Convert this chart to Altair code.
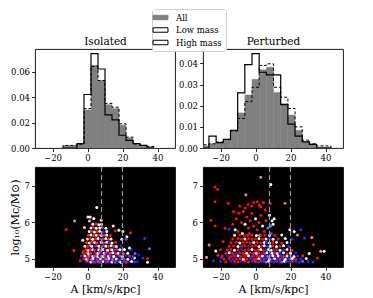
import altair as alt
import pandas as pd

FONT = "DejaVu Serif"

series_names = ["All", "Low mass", "High mass"]
panel_titles = ["Isolated", "Perturbed"]
x_ticks = [-20, 0, 20, 40]
iso_yticks = [0, 0.02, 0.04, 0.06]
per_yticks = [0, 0.01, 0.02, 0.03, 0.04]
mass_ticks = [5, 6, 7]
vline_x = [8, 20]

iso_edges = [-14, -10, -6, -2, 2, 6, 10, 14, 18, 22, 26, 30, 34, 38]
iso_all = [0.002, 0.002, 0.0035, 0.030, 0.065, 0.053, 0.034, 0.031, 0.018, 0.008, 0.0026, 0.002, 0.001]
iso_low = [0.002, 0.002, 0.003, 0.031, 0.064, 0.053, 0.035, 0.032, 0.019, 0.0085, 0.003, 0.002, 0.0012]
iso_high = [0, 0, 0.0035, 0.042, 0.074, 0.062, 0.026, 0.022, 0.010, 0.006, 0.0034, 0.002, 0]

per_edges = [-30.7, -26.6, -22.5, -18.4, -14.3, -10.2, -6.1, -2.0, 2.1, 6.2, 10.3, 14.4, 18.5, 22.6, 26.7, 30.8, 34.9, 39.0, 43.1]
per_all = [0.001, 0.002, 0.0028, 0.004, 0.0084, 0.0166, 0.0251, 0.0325, 0.037, 0.0382, 0.0263, 0.021, 0.0156, 0.0084, 0.003, 0.0017, 0.0005, 0.0004]
per_low = [0.0015, 0.002, 0.0028, 0.004, 0.008, 0.014, 0.0219, 0.0287, 0.039, 0.0398, 0.0287, 0.024, 0.0187, 0.010, 0.0037, 0.002, 0.001, 0.001]
per_high = [0, 0.0056, 0.0025, 0.0041, 0.0084, 0.0261, 0.0394, 0.0446, 0.0358, 0.0346, 0.0346, 0.0205, 0.0113, 0.0056, 0.0029, 0.0017, 0, 0]

# (A, log10 Mc, colour value in [-1, 1])
iso_points = [
    (-12.2, 5.81, 0.95), (-7.4, 6.04, 0.45), (-7.8, 5.23, 0.9), (5.3, 6.41, 0.0), (0.2, 6.15, 0.15),
    (1.5, 6.15, 0.05), (1.1, 6.04, 0.3), (3.6, 6.11, 0.0), (7.8, 6.06, -0.1), (14.7, 5.9, 0.1),
    (15.8, 5.77, 0.9), (17.9, 5.79, 0.05), (20.2, 5.75, 0.0), (24.6, 5.72, 0.9), (22.5, 5.61, 0.1),
    (32.6, 5.56, -0.8), (35.4, 5.28, -0.6), (29.3, 5.11, -0.9), (31.6, 5.03, -0.85), (34.3, 5.01, 0.9),
    (34.3, 4.91, 0.1), (26.8, 5.03, 0.0), (25.0, 5.26, -0.9), (24.0, 5.3, 0.05), (22.1, 5.54, -0.7),
    (19.6, 5.54, 0.1), (21.1, 5.26, 0.0), (-3.6, 5.08, -0.8), (-2.7, 5.51, 0.1), (-1.7, 5.86, 0.2),
    (-4.2, 4.95, 0.9), (-2.5, 5.2, 0.8), (28.5, 4.93, -0.9), (27.2, 5.15, -0.6),
    (-1.0, 4.92, -0.9), (0.2, 4.93, 0.9), (1.1, 4.91, -0.9), (2.0, 4.92, 0.1), (3.1, 4.93, -0.8),
    (4.0, 4.91, 0.9), (5.2, 4.92, -0.9), (6.1, 4.93, -0.6), (7.0, 4.91, 0.85), (8.1, 4.92, -0.9),
    (9.0, 4.93, 0.05), (10.2, 4.91, -0.9), (11.1, 4.92, 0.9), (12.0, 4.93, -0.7), (13.1, 4.91, -0.9),
    (14.0, 4.92, 0.1), (15.2, 4.93, -0.9), (16.1, 4.91, 0.8), (17.0, 4.92, -0.9), (18.2, 4.93, -0.6),
    (19.1, 4.91, 0.0), (20.0, 4.92, -0.9), (21.2, 4.93, -0.8), (22.1, 4.91, 0.9), (24.0, 4.92, -0.9),
    (25.2, 4.93, 0.1), (27.0, 4.92, -0.8),
    (-2.0, 5.0, 0.9), (-0.5, 4.99, 0.05), (0.5, 5.01, 0.9), (1.5, 5.0, -0.9), (2.5, 4.99, 0.7),
    (3.5, 5.01, 0.0), (4.5, 5.0, -0.9), (5.5, 4.99, 0.9), (6.5, 5.01, -0.9), (7.5, 5.0, 0.1),
    (8.5, 4.99, 0.9), (9.5, 5.01, -0.9), (10.5, 5.0, -0.5), (11.5, 4.99, 0.8), (12.5, 5.01, 0.05),
    (13.5, 5.0, -0.9), (14.5, 4.99, 0.6), (15.5, 5.01, -0.9), (16.5, 5.0, 0.0), (18.0, 4.99, -0.9),
    (19.5, 5.01, 0.9), (21.0, 5.0, -0.7), (23.0, 4.99, 0.1), (25.5, 5.01, -0.9),
    (-1.5, 5.08, 0.1), (0.0, 5.07, 0.9), (1.0, 5.09, 0.6), (2.0, 5.08, -0.9), (3.0, 5.07, 0.05),
    (4.0, 5.09, 0.9), (5.0, 5.08, 0.8), (6.0, 5.07, 0.0), (7.0, 5.09, -0.9), (8.0, 5.08, 0.9),
    (9.0, 5.07, -0.1), (10.0, 5.09, 0.9), (11.0, 5.08, -0.8), (12.0, 5.07, 0.1), (13.0, 5.09, 0.9),
    (14.0, 5.08, -0.9), (15.0, 5.07, 0.0), (17.0, 5.09, -0.9), (18.5, 5.08, 0.8), (20.0, 5.07, 0.05),
    (22.0, 5.09, -0.9), (24.0, 5.08, 0.9), (26.0, 5.07, -0.8),
    (-2.5, 5.16, 0.9), (-0.5, 5.17, 0.85), (0.5, 5.15, 0.05), (2.0, 5.16, 0.9), (3.5, 5.17, -0.9),
    (5.0, 5.15, 0.9), (6.0, 5.16, 0.0), (7.0, 5.17, 0.7), (8.0, 5.15, -0.9), (9.5, 5.16, 0.1),
    (10.5, 5.17, 0.9), (12.0, 5.15, -0.8), (13.0, 5.16, 0.8), (14.5, 5.17, 0.0), (16.0, 5.15, 0.9),
    (17.5, 5.16, 0.1), (19.0, 5.17, -0.9), (20.5, 5.15, 0.7), (23.0, 5.16, 0.0),
    (-1.0, 5.25, 0.9), (0.5, 5.24, 0.05), (1.5, 5.26, 0.9), (3.0, 5.25, 0.0), (4.0, 5.24, 0.9),
    (5.5, 5.26, -0.9), (6.5, 5.25, 0.1), (7.5, 5.24, 0.9), (9.0, 5.26, 0.0), (10.0, 5.25, -0.9),
    (11.5, 5.24, 0.05), (13.0, 5.26, 0.9), (14.0, 5.25, 0.1), (15.5, 5.24, -0.8), (17.0, 5.26, 0.9),
    (18.5, 5.25, 0.0),
    (-1.5, 5.35, 0.1), (0.0, 5.34, 0.9), (1.5, 5.36, 0.8), (2.5, 5.35, 0.0), (4.0, 5.34, -0.9),
    (5.0, 5.36, 0.9), (6.5, 5.35, 0.05), (8.0, 5.34, 0.9), (9.0, 5.36, -0.7), (10.5, 5.35, 0.0),
    (12.0, 5.34, 0.9), (13.5, 5.36, 0.1), (15.0, 5.35, 0.8), (16.5, 5.34, 0.0), (19.0, 5.36, -0.9),
    (-0.5, 5.45, 0.9), (1.0, 5.44, 0.0), (2.5, 5.46, 0.9), (4.0, 5.45, 0.1), (5.5, 5.44, 0.9),
    (7.0, 5.46, -0.9), (8.0, 5.45, 0.0), (9.5, 5.44, 0.9), (11.0, 5.46, 0.05), (12.5, 5.45, -0.8),
    (14.0, 5.44, 0.0), (16.0, 5.46, 0.9),
    (0.0, 5.55, 0.1), (1.5, 5.56, 0.9), (3.0, 5.54, 0.0), (4.5, 5.55, 0.9), (6.0, 5.56, 0.05),
    (7.5, 5.54, -0.8), (9.0, 5.55, 0.9), (10.5, 5.56, 0.0), (12.0, 5.54, 0.8), (13.5, 5.55, 0.1),
    (0.5, 5.65, 0.9), (2.0, 5.66, 0.0), (3.5, 5.64, 0.85), (5.0, 5.65, 0.1), (6.5, 5.66, 0.9),
    (8.0, 5.64, -0.1), (9.5, 5.65, 0.9), (11.0, 5.66, 0.0), (13.0, 5.64, 0.9),
    (1.0, 5.75, 0.05), (2.5, 5.76, 0.9), (4.0, 5.74, 0.0), (5.5, 5.75, 0.9), (7.0, 5.76, 0.1),
    (9.0, 5.74, -0.8), (11.0, 5.75, 0.0),
    (2.0, 5.85, 0.1), (3.5, 5.86, 0.9), (5.0, 5.84, 0.0), (7.0, 5.85, 0.05), (8.5, 5.86, 0.9),
    (10.5, 5.84, 0.0),
    (3.0, 5.95, 0.0), (5.0, 5.96, 0.9), (6.5, 5.94, 0.1), (8.0, 5.95, -0.05),
]

per_points = [
    (3.0, 7.24, 0.5), (8.7, 7.04, 0.0), (-23.3, 6.97, 0.95), (-21.7, 6.91, 0.95), (-23.1, 6.57, 0.95),
    (-5.5, 6.76, 0.5), (-15.6, 6.53, 0.95), (-4.2, 6.5, 0.95), (-2.1, 6.45, 0.9), (1.1, 6.57, 0.95),
    (2.1, 6.48, 0.9), (3.0, 6.43, 0.95), (8.4, 6.53, 0.95), (16.9, 6.53, 0.6), (-25.5, 6.06, 0.95),
    (-23.1, 5.9, 0.95), (-26.5, 5.38, 0.5), (-28.0, 5.05, 0.4), (-22.7, 5.22, 0.05), (-18.5, 5.48, 0.95),
    (-15.1, 5.82, -0.8), (-17.3, 5.84, 0.95), (-11.6, 5.8, 0.05), (10.7, 6.1, 0.0), (25.9, 5.8, -0.8),
    (28.0, 5.57, -0.8), (32.2, 5.59, 0.5), (33.1, 5.39, 0.95), (37.3, 5.21, 0.4), (39.2, 5.21, 0.05),
    (35.4, 5.03, 0.95), (30.7, 5.15, 0.05), (24.0, 5.66, 0.5), (22.1, 5.75, 0.05), (19.6, 5.8, 0.05),
    (-20.0, 5.25, 0.95), (-21.5, 5.1, 0.9), (-24.0, 4.95, -0.8), (-19.5, 5.05, -0.8),
    (-11.0, 6.1, 0.95), (-9.5, 6.25, 0.95), (-8.0, 6.0, 0.95), (-7.0, 6.3, 0.9), (-6.0, 5.95, 0.05),
    (-5.0, 6.15, 0.95), (-4.0, 5.85, 0.9), (-3.0, 6.05, 0.95), (-2.0, 6.25, 0.95), (-1.0, 5.9, 0.9),
    (0.0, 6.1, 0.05), (1.0, 5.8, 0.95), (2.0, 6.0, 0.9), (3.0, 6.2, 0.95), (4.0, 5.9, 0.0),
    (5.0, 5.75, 0.95), (6.0, 6.05, 0.9), (7.0, 5.85, -0.6), (-10.0, 5.75, 0.95), (-13.0, 5.95, 0.95),
    (-7.5, 5.7, 0.05), (-3.5, 5.7, 0.95), (2.5, 5.65, 0.0), (9.0, 5.7, -0.7), (10.0, 5.95, 0.05),
    (8.0, 6.2, 0.0), (-6.0, 6.4, 0.95), (-1.0, 6.55, 0.95), (4.5, 6.55, 0.9), (-9.0, 6.45, 0.95),
    (-12.5, 6.3, 0.9), (5.5, 6.35, 0.95), (8.5, 5.9, -0.5), (9.5, 6.05, 0.05),
    (-20.0, 4.93, -0.85), (-17.0, 4.92, 0.95), (-14.0, 4.94, -0.85), (-12.0, 4.93, 0.95), (-10.0, 4.92, 0.9),
    (-8.0, 4.94, -0.85), (-6.0, 4.93, 0.95), (-4.0, 4.92, 0.9), (-2.0, 4.94, -0.85), (0.0, 4.93, 0.95),
    (1.5, 4.92, -0.85), (3.0, 4.94, 0.95), (4.5, 4.93, -0.85), (6.0, 4.92, -0.6), (7.5, 4.94, 0.05),
    (9.0, 4.93, -0.85), (10.5, 4.92, -0.85), (12.0, 4.94, 0.95), (13.5, 4.93, -0.85), (15.0, 4.92, -0.6),
    (16.5, 4.94, 0.0), (18.0, 4.93, -0.85), (19.5, 4.92, -0.85), (21.0, 4.94, 0.9), (23.0, 4.93, -0.85),
    (25.0, 4.92, -0.85), (27.0, 4.94, -0.6), (30.0, 4.93, -0.85), (33.0, 4.92, -0.85),
    (-18.0, 5.0, 0.95), (-15.0, 5.01, 0.95), (-13.0, 4.99, -0.85), (-11.0, 5.0, 0.95), (-9.0, 5.01, 0.95),
    (-7.0, 4.99, 0.05), (-5.0, 5.0, 0.95), (-3.0, 5.01, -0.85), (-1.0, 4.99, 0.95), (0.5, 5.0, 0.9),
    (2.0, 5.01, 0.0), (3.5, 4.99, -0.85), (5.0, 5.0, 0.95), (6.5, 5.01, -0.85), (8.0, 4.99, 0.05),
    (9.5, 5.0, -0.85), (11.0, 5.01, 0.0), (12.5, 4.99, -0.85), (14.0, 5.0, 0.9), (15.5, 5.01, -0.85),
    (17.0, 4.99, 0.05), (19.0, 5.0, -0.85), (21.0, 5.01, 0.0), (23.0, 4.99, 0.95), (26.0, 5.0, -0.85),
    (29.0, 5.01, 0.05),
    (-19.0, 5.08, 0.95), (-16.0, 5.09, -0.85), (-14.0, 5.07, 0.95), (-12.0, 5.08, 0.95), (-10.0, 5.09, 0.05),
    (-8.0, 5.07, 0.95), (-6.0, 5.08, 0.95), (-4.0, 5.09, 0.0), (-2.0, 5.07, 0.95), (-0.5, 5.08, -0.85),
    (1.0, 5.09, 0.95), (2.5, 5.07, 0.9), (4.0, 5.08, 0.05), (5.5, 5.09, -0.85), (7.0, 5.07, -0.6),
    (8.5, 5.08, 0.95), (10.0, 5.09, 0.0), (11.5, 5.07, -0.85), (13.0, 5.08, 0.05), (14.5, 5.09, -0.85),
    (16.0, 5.07, 0.9), (18.0, 5.08, 0.0), (20.0, 5.09, -0.85), (22.0, 5.07, 0.05), (24.0, 5.08, -0.85),
    (27.0, 5.09, 0.9),
    (-17.0, 5.16, 0.95), (-15.0, 5.17, 0.05), (-13.0, 5.15, 0.95), (-11.0, 5.16, -0.85), (-9.0, 5.17, 0.95),
    (-7.0, 5.15, 0.95), (-5.0, 5.16, 0.0), (-3.0, 5.17, 0.95), (-1.0, 5.15, 0.9), (0.5, 5.16, 0.05),
    (2.0, 5.17, 0.95), (3.5, 5.15, -0.85), (5.0, 5.16, 0.95), (6.5, 5.17, 0.0), (8.0, 5.15, -0.85),
    (9.5, 5.16, 0.05), (11.0, 5.17, 0.95), (12.5, 5.15, 0.0), (14.0, 5.16, -0.85), (16.0, 5.17, 0.05),
    (18.0, 5.15, 0.95), (20.0, 5.16, 0.0), (23.0, 5.17, -0.85),
    (-16.0, 5.25, 0.95), (-14.0, 5.26, 0.95), (-12.0, 5.24, 0.05), (-10.0, 5.25, 0.95), (-8.0, 5.26, -0.85),
    (-6.0, 5.24, 0.95), (-4.0, 5.25, 0.95), (-2.0, 5.26, 0.0), (0.0, 5.24, 0.95), (1.5, 5.25, 0.9),
    (3.0, 5.26, 0.05), (4.5, 5.24, 0.95), (6.0, 5.25, -0.85), (7.5, 5.26, 0.0), (9.0, 5.24, 0.05),
    (10.5, 5.25, -0.85), (12.0, 5.26, 0.95), (14.0, 5.24, 0.0), (16.0, 5.25, -0.85), (18.0, 5.26, 0.05),
    (21.0, 5.24, 0.95),
    (-15.0, 5.35, 0.95), (-12.5, 5.36, 0.95), (-10.0, 5.34, 0.05), (-8.0, 5.35, 0.95), (-6.0, 5.36, 0.95),
    (-4.0, 5.34, -0.85), (-2.0, 5.35, 0.95), (0.0, 5.36, 0.95), (2.0, 5.34, 0.0), (3.5, 5.35, 0.95),
    (5.0, 5.36, 0.05), (7.0, 5.34, -0.85), (8.5, 5.35, 0.0), (10.0, 5.36, 0.95), (12.0, 5.34, 0.05),
    (14.0, 5.35, 0.95), (16.0, 5.36, 0.0), (19.0, 5.34, -0.85),
    (-14.0, 5.45, 0.95), (-11.0, 5.46, 0.95), (-9.0, 5.44, 0.05), (-7.0, 5.45, 0.95), (-5.0, 5.46, 0.95),
    (-3.0, 5.44, 0.95), (-1.0, 5.45, 0.0), (1.0, 5.46, 0.95), (3.0, 5.44, 0.95), (5.0, 5.45, 0.05),
    (6.5, 5.46, -0.85), (8.0, 5.44, 0.0), (10.0, 5.45, 0.95), (12.0, 5.46, 0.05), (15.0, 5.44, 0.95),
    (18.0, 5.45, 0.0),
    (-13.0, 5.55, 0.95), (-10.0, 5.56, 0.95), (-8.0, 5.54, 0.95), (-6.0, 5.55, 0.05), (-4.0, 5.56, 0.95),
    (-2.0, 5.54, 0.95), (0.0, 5.55, 0.95), (2.0, 5.56, 0.0), (4.0, 5.54, 0.95), (6.0, 5.55, 0.05),
    (8.0, 5.56, -0.85), (10.0, 5.54, 0.0), (13.0, 5.55, 0.95), (17.0, 5.56, 0.05), (21.0, 5.54, -0.85),
    (-12.0, 5.65, 0.05), (-9.0, 5.66, 0.95), (-6.5, 5.64, 0.95), (-4.5, 5.65, 0.95), (-2.0, 5.66, 0.95),
    (0.5, 5.64, 0.0), (3.0, 5.65, 0.95), (5.5, 5.66, 0.95), (8.0, 5.64, 0.05), (11.0, 5.65, 0.95),
    (15.0, 5.66, 0.0),
]

XDOM = [-30, 50]


def bars_df(edges, vals):
    return pd.DataFrame({"x0": edges[:-1], "x1": edges[1:], "h": vals,
                         "z": [0.0] * len(vals), "series": ["All"] * len(vals)})


def step_df(edges, vals):
    xs, ys = [edges[0]], [0.0]
    for i, v in enumerate(vals):
        xs += [edges[i], edges[i + 1]]
        ys += [v, v]
    xs.append(edges[-1])
    ys.append(0.0)
    return pd.DataFrame({"x": xs, "y": ys, "k": list(range(len(xs)))})


def hist(edges, a, lo, hi, title, ymax, yticks, legend_x):
    xs = alt.Scale(domain=XDOM, nice=False, zero=False)
    ys = alt.Scale(domain=[0, ymax], nice=False, zero=True)
    xax = alt.Axis(values=x_ticks, title=None, format="d", domain=False, orient="bottom")
    yax = alt.Axis(values=yticks, title=None, format=".2f", domain=False, labelOverlap=False)
    top_ax = alt.Axis(orient="top", title=title, labels=False, ticks=False, domain=False,
                      titleFont=FONT, titleFontSize=10.5, titleFontWeight="normal",
                      titlePadding=3, titleColor="black")
    enc = dict(
        x=alt.X("x0:Q", scale=xs, axis=xax),
        x2="x1:Q",
        y=alt.Y("h:Q", scale=ys, axis=yax),
        y2="z:Q",
    )
    if legend_x is not None:
        leg = alt.Legend(orient="none", legendX=legend_x, legendY=-40, title=None,
                         symbolType="M-2,-0.6H2V0.6H-2Z", symbolSize=56,
                         symbolStrokeWidth=1, labelFont=FONT, labelFontSize=8.5,
                         labelColor="black", labelOffset=11, rowPadding=3.5,
                         padding=4, fillColor="white", strokeColor="#d0d0d0",
                         cornerRadius=2, offset=0)
        enc["fill"] = alt.Fill("series:N", scale=alt.Scale(domain=series_names,
                               range=["#808080", "transparent", "transparent"]), legend=leg)
        enc["stroke"] = alt.Stroke("series:N", scale=alt.Scale(domain=series_names,
                                   range=["#808080", "black", "black"]), legend=leg)
        enc["strokeDash"] = alt.StrokeDash("series:N", scale=alt.Scale(domain=series_names,
                                           range=[[1, 0], [2.5, 1.5], [1, 0]]), legend=leg)
        bars = alt.Chart(bars_df(edges, a)).mark_rect(clip=True, strokeWidth=0.4).encode(**enc)
    else:
        bars = alt.Chart(bars_df(edges, a)).mark_rect(clip=True, color="#808080",
                                                       stroke="#8c8c8c", strokeWidth=0.4).encode(**enc)
    low = alt.Chart(step_df(edges, lo)).mark_line(
        clip=True, color="black", strokeWidth=1, strokeDash=[3, 2], interpolate="linear"
    ).encode(x=alt.X("x:Q", scale=xs, axis=None), y=alt.Y("y:Q", scale=ys, axis=yax), order="k:Q")
    high = alt.Chart(step_df(edges, hi)).mark_line(
        clip=True, color="black", strokeWidth=1.2, interpolate="linear"
    ).encode(x=alt.X("x:Q", scale=xs, axis=top_ax), y=alt.Y("y:Q", scale=ys, axis=yax), order="k:Q")
    return alt.layer(bars, low, high).resolve_axis(x="independent").properties(width=140, height=99)


def scatter(points, ytitle):
    df = pd.DataFrame(points, columns=["x", "y", "c"])
    xs = alt.Scale(domain=XDOM, nice=False, zero=False)
    ys = alt.Scale(domain=[4.78, 7.52], nice=False, zero=False)
    if ytitle:
        yax = alt.Axis(values=mass_ticks, format="d", domain=False, title=ytitle, titlePadding=4)
    else:
        yax = alt.Axis(values=mass_ticks, format="d", domain=False, title=None)
    pts = alt.Chart(df).mark_circle(size=9, opacity=1, clip=True).encode(
        x=alt.X("x:Q", scale=xs, axis=alt.Axis(values=x_ticks, format="d", domain=False,
                                                 title="A [km/s/kpc]", titlePadding=2)),
        y=alt.Y("y:Q", scale=ys, axis=yax),
        color=alt.Color("c:Q", scale=alt.Scale(domain=[-1, 0, 1], interpolate="rgb",
                        range=["#0000ff", "#ffffff", "#ff0000"]), legend=None),
    )
    rules = alt.Chart(pd.DataFrame({"v": vline_x})).mark_rule(
        color="#9a9a9a", strokeDash=[5, 3], strokeWidth=1.2
    ).encode(x=alt.X("v:Q", scale=xs))
    return alt.layer(pts, rules).properties(
        width=140, height=100, view=alt.ViewBackground(fill="black", stroke="black")
    )


# the legend now belongs to the right-hand histogram (placed to straddle the gap)
h_iso = hist(iso_edges, iso_all, iso_low, iso_high, panel_titles[0], 0.0777, iso_yticks, None)
h_per = hist(per_edges, per_all, per_low, per_high, panel_titles[1], 0.0468, per_yticks, -51)
s_iso = scatter(iso_points, "log₁₀(Mc/M⊙)")
s_per = scatter(per_points, None)

chart = alt.ConcatChart(
    concat=[h_iso, h_per, s_iso, s_per], columns=2,
    spacing=alt.RowColnumber(row=19, column=28), bounds="flush",
).resolve_scale(
    fill="independent", stroke="independent", strokeDash="independent", color="independent"
).resolve_legend(
    fill="independent", stroke="independent", strokeDash="independent", color="independent"
).properties(background="white", padding=0).configure_axis(
    labelFont=FONT, labelFontSize=8.5, labelColor="black", tickColor="black",
    tickSize=3.5, tickWidth=0.8, grid=False, titleFont=FONT, titleFontSize=11,
    titleFontWeight="normal", titleColor="black", labelPadding=2, labelOverlap=False,
).configure_view(stroke="black", strokeWidth=0.9)

chart.save("out.html", embed_options={"renderer": "svg", "actions": False})
